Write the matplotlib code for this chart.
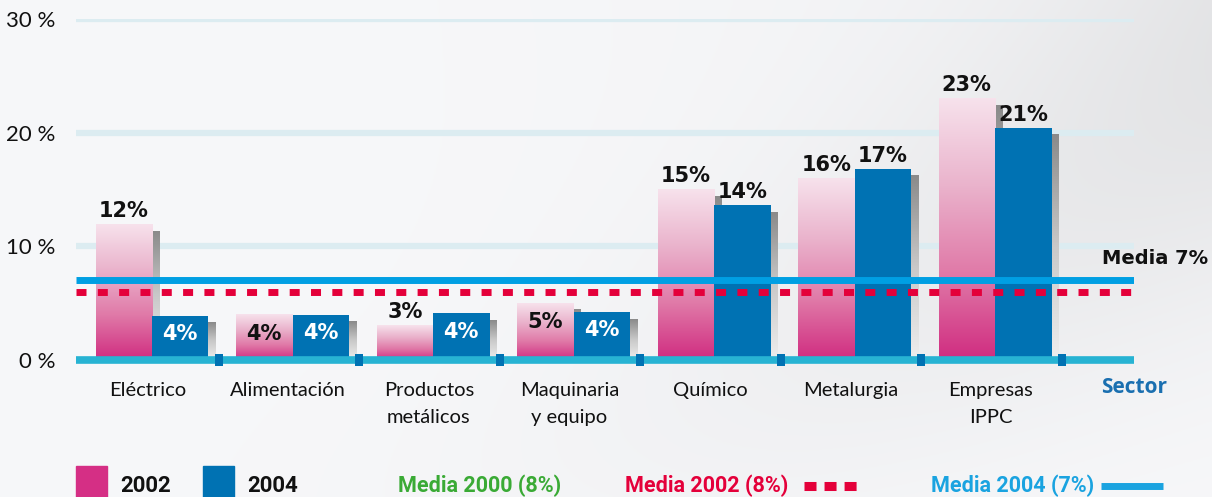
import numpy as np
import matplotlib
matplotlib.use("Agg")
import matplotlib.pyplot as plt
from matplotlib.colors import LinearSegmentedColormap
from matplotlib.patches import Rectangle
from matplotlib.lines import Line2D

# ---------------- data ----------------
categories = ["Eléctrico", "Alimentación", "Productos\nmetálicos", "Maquinaria\ny equipo",
              "Químico", "Metalurgia", "Empresas\nIPPC"]
values_2002 = [11.9, 4.0, 3.0, 5.0, 15.0, 16.0, 23.0]
values_2004 = [3.9, 4.0, 4.1, 4.2, 13.6, 16.8, 20.4]
labels_2002 = ["12%", "4%", "3%", "5%", "15%", "16%", "23%"]
labels_2004 = ["4%", "4%", "4%", "4%", "14%", "17%", "21%"]
inside_2002 = [False, True, False, True, False, False, False]
inside_2004 = [True, True, True, True, False, False, False]
media_2004 = 7.0
media_2002 = 6.0
yticks = [0, 10, 20, 30]
ytick_labels = ["0 %", "10 %", "20 %", "30 %"]
legend_series = ["2002", "2004"]
legend_medias = ["Media 2000 (8%)", "Media 2002 (8%)", "Media 2004 (7%)"]

# ---------------- style ----------------
W, H = 1212, 497
PINK_CMAP = LinearSegmentedColormap.from_list("pink", ["#d02c80", "#e07aa8", "#eab3cc", "#f7e2ec"])
GRAY_CMAP = LinearSegmentedColormap.from_list("gray", ["#eeeeee", "#c9c9c9", "#8a8a8a"])
BLUE = "#0072b3"
LINE_BLUE = "#009fe3"
AXIS_BLUE = "#27b3d3"
RED = "#e4003a"
GRID = "#dcecf1"
NUM_FONT = ["DejaVu Sans"]
TXT_FONT = ["Lato", "DejaVu Sans"]
COND_FONT = ["Roboto", "DejaVu Sans"]

fig = plt.figure(figsize=(W / 100, H / 100), dpi=100)

# background
bg = fig.add_axes([0, 0, 1, 1], zorder=-10)
yy, xx = np.mgrid[0:1:200j, 0:1:400j]
d = (xx - 0.35) - 0.55 * (1 - yy)          # diagonal coordinate
band = np.exp(-((d - 0.25) ** 2) / 0.08) * (1 - 0.8 * yy)
shade = 0.978 - 0.075 * band
shade = shade - 0.025 * np.clip(xx - 0.3, 0, 1) * (1 - yy)
shade = np.clip(shade, 0.88, 0.99)
img = np.dstack([shade * 0.99, shade * 0.992, shade * 1.0])
img = np.clip(img, 0, 1)
bg.imshow(img, extent=[0, 1, 0, 1], aspect="auto", origin="upper")
bg.set_axis_off()

ax = fig.add_axes([76 / W, 137 / H, 1058 / W, 341 / H])
ax.patch.set_alpha(0)
for s in ax.spines.values():
    s.set_visible(False)

n = len(categories)
x = np.arange(n)
w = 0.402
dx = 7 / 140.5
dy = 0.6

# grid lines
for t in yticks[1:]:
    ax.axhline(t, color=GRID, lw=4.5, zorder=1, solid_capstyle="butt")

grad = np.linspace(0, 1, 256).reshape(-1, 1)

# shadows (behind each bar)
for xs, vals, zo in [(x - w / 2, values_2002, 2.0), (x + w / 2, values_2004, 2.5)]:
    for xc, v in zip(xs, vals):
        ax.imshow(grad, cmap=GRAY_CMAP, origin="lower", aspect="auto",
                  extent=[xc - w / 2 + dx, xc + w / 2 + dx, 0, v - dy], zorder=zo)

# 2002 bars (gradient)
bars02 = ax.bar(x - w / 2, values_2002, w, color="none", zorder=3)
for p in bars02:
    x0, y0 = p.get_x(), p.get_y()
    ax.imshow(grad, cmap=PINK_CMAP, origin="lower", aspect="auto",
              extent=[x0, x0 + p.get_width(), y0, y0 + p.get_height()], zorder=3)

# 2004 bars
bars04 = ax.bar(x + w / 2, values_2004, w, color=BLUE, zorder=4)

# media lines
ax.axhline(media_2004, color=LINE_BLUE, lw=5, zorder=6, solid_capstyle="butt")
ax.axhline(media_2002, color=RED, lw=5, zorder=6, linestyle=(0, (1.44, 1.63)),
           dash_capstyle="butt")
ax.axhline(0, color=AXIS_BLUE, lw=5.5, zorder=7, clip_on=False, solid_capstyle="butt")

# separators on the axis
ax.bar(x + 0.475, 1.14, 0.057, bottom=-0.57, color=BLUE, zorder=8, clip_on=False)

# value labels
for p, lab, ins in zip(bars02, labels_2002, inside_2002):
    cx = p.get_x() + p.get_width() / 2
    h = p.get_height()
    if ins:
        ax.text(cx, h - 1.7, lab, ha="center", va="center", fontsize=15,
                fontweight="bold", family=NUM_FONT, color="#111111", zorder=9)
    else:
        ax.text(cx, h + 0.3, lab, ha="center", va="bottom", fontsize=15,
                fontweight="bold", family=NUM_FONT, color="#111111", zorder=9, clip_on=False)
for p, lab, ins in zip(bars04, labels_2004, inside_2004):
    cx = p.get_x() + p.get_width() / 2
    h = p.get_height()
    if ins:
        ax.text(cx, h - 1.6, lab, ha="center", va="center", fontsize=15,
                fontweight="bold", family=NUM_FONT, color="white", zorder=9)
    else:
        ax.text(cx, h + 0.3, lab, ha="center", va="bottom", fontsize=15,
                fontweight="bold", family=NUM_FONT, color="#111111", zorder=9, clip_on=False)

# category labels
for xc, c in zip(x, categories):
    ax.text(xc - 0.03, -1.9, c, ha="center", va="top", fontsize=14.5, family=TXT_FONT,
            color="#111111", linespacing=1.75, clip_on=False)

# axis ticks
ax.set_xticks([])
ax.set_yticks(yticks)
ax.set_yticklabels(ytick_labels, fontsize=16, family=TXT_FONT, color="#111111")
ax.tick_params(axis="y", length=0, pad=15)

# annotations
ax.text((1102 - 76) / 1058, 8.9, "Media 7%", transform=ax.get_yaxis_transform(),
        ha="left", va="center", fontsize=14, fontweight="bold", family=NUM_FONT,
        color="#111111", clip_on=False)
ax.text(1.0, -2.4, "Sector", transform=ax.get_yaxis_transform(), ha="center", va="center",
        fontsize=15, fontweight="bold", family=["Open Sans", "DejaVu Sans"],
        color="#1a6fb0", clip_on=False)

ax.set_xlim(-0.541, 6.989)
ax.set_ylim(0, 30)

# legend
ly = (H - 486) / H
fig.patches.append(Rectangle((76 / W, 0), 31 / W, 31 / H, transform=fig.transFigure,
                             color="#d52f85", zorder=5))
fig.patches.append(Rectangle((203 / W, 0), 31 / W, 31 / H, transform=fig.transFigure,
                             color=BLUE, zorder=5))
fig.text(120 / W, ly, legend_series[0], ha="left", va="center", fontsize=16,
         fontweight="bold", family=COND_FONT, color="#111111")
fig.text(247 / W, ly, legend_series[1], ha="left", va="center", fontsize=16,
         fontweight="bold", family=COND_FONT, color="#111111")
fig.text(398 / W, ly, legend_medias[0], ha="left", va="center", fontsize=15.5,
         fontweight="bold", family=COND_FONT, color="#3aaa35")
fig.text(625 / W, ly, legend_medias[1], ha="left", va="center", fontsize=15.5,
         fontweight="bold", family=COND_FONT, color=RED)
fig.text(931 / W, ly, legend_medias[2], ha="left", va="center", fontsize=15.5,
         fontweight="bold", family=COND_FONT, color="#1aa3e0")
fig.lines.append(Line2D([804 / W, 859 / W], [ly, ly], transform=fig.transFigure, color=RED,
                        lw=6.5, linestyle=(0, (1.33, 0.89)), dash_capstyle="butt"))
fig.lines.append(Line2D([1101 / W, 1163 / W], [ly, ly], transform=fig.transFigure,
                        color="#1aa3e0", lw=5, solid_capstyle="butt"))

fig.savefig("out.png", dpi=100)
